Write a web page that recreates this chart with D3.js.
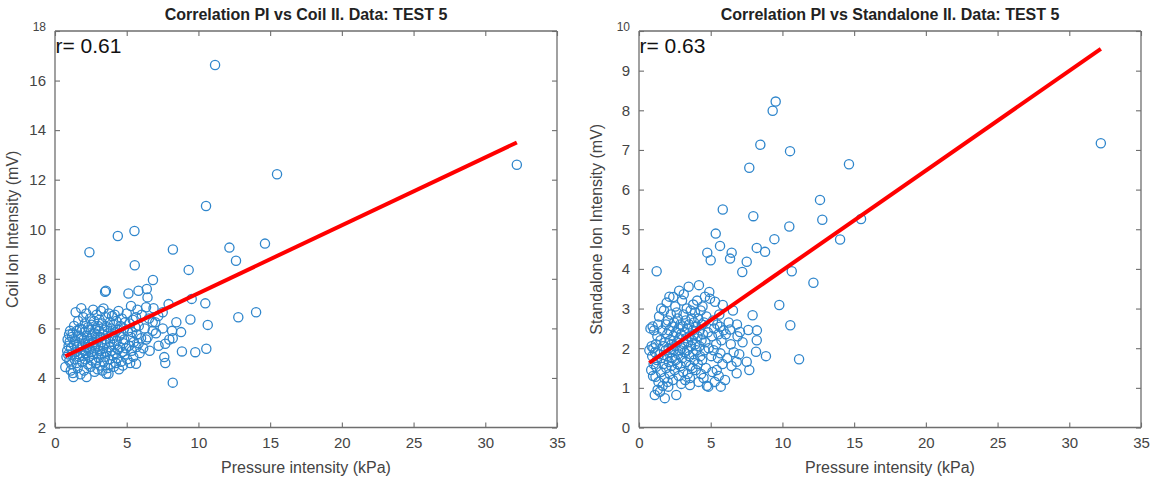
<!DOCTYPE html>
<html>
<head>
<meta charset="utf-8">
<script src="https://cdn.jsdelivr.net/npm/d3@7"></script>
<style>
  body { margin: 0; background: #fff; }
  svg { display: block; font-family: "Liberation Sans", Arial, Helvetica, sans-serif; }
</style>
</head>
<body>
<svg id="chart" width="1160" height="481"></svg>
<script>
// Pressure intensity (kPa) for each recorded event
const pressure = [
  0.72, 0.80, 0.85, 0.88, 0.92, 0.95, 0.98, 1.00, 1.02, 1.05,
  1.10, 1.12, 1.15, 1.18, 1.20, 1.23, 1.25, 1.28, 1.30, 1.33,
  1.36, 1.40, 1.44, 1.46, 1.50, 1.52, 1.55, 1.58, 1.62, 1.65,
  1.68, 1.70, 1.74, 1.78, 1.80, 1.83, 1.86, 1.88, 1.90, 1.93,
  1.95, 1.97, 2.00, 2.02, 2.04, 2.06, 2.08, 2.10, 2.12, 2.15,
  2.18, 2.20, 2.22, 2.25, 2.28, 2.30, 2.33, 2.36, 2.39, 2.40,
  2.42, 2.45, 2.48, 2.50, 2.53, 2.56, 2.58, 2.60, 2.63, 2.66,
  2.68, 2.70, 2.73, 2.76, 2.78, 2.80, 2.83, 2.86, 2.88, 2.90,
  2.93, 2.95, 2.97, 3.00, 3.02, 3.05, 3.08, 3.10, 3.12, 3.14,
  3.17, 3.20, 3.22, 3.25, 3.28, 3.30, 3.33, 3.36, 3.38, 3.40,
  3.43, 3.46, 3.49, 3.50, 3.52, 3.55, 3.58, 3.60, 3.62, 3.55,
  3.67, 3.70, 3.73, 3.75, 3.78, 3.80, 3.82, 3.84, 3.87, 3.90,
  3.93, 3.96, 3.98, 4.02, 4.05, 4.08, 4.10, 4.13, 4.16, 4.18,
  4.21, 4.24, 4.27, 4.30, 4.33, 4.36, 4.38, 4.40, 4.43, 4.46,
  4.50, 4.53, 4.56, 4.60, 4.63, 4.66, 4.70, 4.73, 4.76, 4.80,
  4.83, 4.86, 4.90, 4.95, 5.00, 5.04, 5.08, 5.12, 5.16, 5.20,
  5.24, 5.28, 5.30, 5.35, 5.38, 5.42, 5.46, 5.50, 5.54, 5.56,
  5.60, 5.65, 5.65, 5.68, 5.70, 5.75, 5.82, 5.84, 5.84, 5.90,
  6.00, 6.05, 6.15, 6.25, 6.35, 6.35, 6.40, 6.45, 6.46, 6.55,
  6.60, 6.81, 6.81, 6.83, 6.87, 6.99, 7.04, 7.20, 7.22, 7.51,
  7.51, 7.62, 7.69, 7.69, 7.92, 7.97, 8.16, 8.21, 8.21, 8.22,
  8.46, 8.79, 8.85, 9.32, 9.44, 9.53, 9.78, 10.48, 10.53, 10.55,
  10.65, 11.16, 12.16, 12.62, 12.78, 14.02, 14.64, 15.48, 32.20
];

// Coil ion intensity (mV), same order as pressure
const coilIon = [
  4.44, 4.85, 5.10, 5.55, 4.95, 5.30, 5.75, 4.70, 5.45, 5.90,
  4.30, 5.20, 4.55, 5.65, 4.95, 5.80, 4.20, 4.04, 5.35, 6.10,
  4.75, 5.50, 6.65, 5.05, 4.60, 5.90, 5.25, 4.40, 6.30, 5.70,
  4.85, 5.40, 6.00, 4.15, 5.15, 6.81, 5.60, 4.65, 5.95, 5.30,
  4.90, 6.45, 5.55, 4.30, 5.10, 5.85, 6.20, 4.75, 5.40, 5.00,
  6.60, 4.04, 5.70, 5.25, 4.55, 6.05, 5.50, 4.85, 5.95, 9.07,
  5.15, 6.40, 4.45, 5.60, 5.05, 6.15, 4.70, 5.75, 5.35, 6.75,
  4.95, 5.45, 6.30, 4.25, 5.80, 5.20, 6.00, 4.60, 5.55, 6.55,
  5.00, 5.65, 4.35, 6.10, 5.30, 4.80, 5.90, 6.35, 5.10, 4.50,
  5.65, 6.70, 4.95, 5.45, 6.20, 4.30, 5.75, 5.20, 6.80, 4.65,
  5.95, 5.35, 7.48, 4.85, 6.45, 5.55, 4.17, 5.05, 6.05, 7.52,
  4.40, 5.80, 4.17, 6.60, 5.25, 4.75, 6.25, 5.45, 4.55, 6.00,
  5.10, 5.70, 6.50, 4.90, 5.60, 6.15, 4.45, 5.35, 6.55, 5.00,
  5.85, 4.60, 6.30, 5.50, 4.80, 5.95, 9.73, 5.15, 6.70, 4.35,
  5.70, 5.25, 6.10, 4.65, 5.80, 6.40, 5.05, 4.50, 5.40, 6.00,
  5.55, 4.95, 6.25, 5.20, 6.60, 4.75, 5.90, 7.41, 5.30, 6.20,
  4.60, 5.65, 6.90, 5.10, 5.85, 6.35, 4.85, 5.45, 9.93, 8.55,
  6.05, 4.57, 6.45, 5.25, 5.75, 6.75, 7.52, 5.40, 6.10, 5.00,
  5.60, 6.55, 5.20, 6.00, 5.55, 6.85, 7.59, 7.25, 5.64, 6.40,
  5.10, 5.90, 6.25, 7.95, 6.81, 6.25, 5.80, 6.50, 5.30, 6.65,
  6.00, 4.84, 4.60, 5.38, 6.98, 5.55, 5.90, 3.81, 5.60, 9.18,
  6.25, 5.85, 5.07, 8.36, 6.36, 7.19, 5.04, 7.01, 10.94, 5.18,
  6.14, 16.63, 9.26, 8.73, 6.45, 6.65, 9.42, 12.22, 12.60
];

// Standalone ion intensity (mV), same order as pressure
const standaloneIon = [
  1.95, 2.50, 1.45, 2.05, 1.80, 2.55, 1.30, 2.00, 1.60, 2.45,
  0.82, 1.90, 1.28, 2.10, 1.53, 3.94, 1.70, 2.30, 0.95, 2.60,
  1.15, 2.80, 1.85, 0.90, 2.20, 1.40, 3.00, 1.75, 2.45, 1.05,
  2.05, 1.60, 2.95, 1.25, 0.74, 2.15, 1.95, 2.60, 1.50, 3.15,
  1.80, 2.35, 1.15, 2.70, 1.03, 2.00, 1.65, 2.45, 3.30, 1.35,
  2.20, 1.90, 2.85, 1.55, 2.10, 1.75, 2.55, 1.20, 3.29, 2.30,
  1.95, 2.65, 1.45, 2.05, 3.05, 1.70, 2.40, 0.82, 2.90, 2.15,
  1.60, 2.75, 1.85, 2.50, 1.30, 3.45, 2.25, 1.95, 2.60, 1.55,
  2.35, 1.10, 2.00, 3.20, 1.75, 2.55, 1.40, 2.85, 3.36, 2.10,
  1.90, 2.40, 1.20, 2.70, 1.65, 2.25, 3.00, 1.95, 2.50, 1.35,
  2.15, 3.55, 2.60, 1.80, 2.30, 1.07, 1.55, 2.95, 2.05, 1.25,
  2.75, 2.20, 1.50, 2.45, 3.10, 1.85, 2.35, 2.65, 1.70, 2.90,
  2.10, 1.45, 2.55, 1.95, 3.20, 2.30, 1.60, 2.75, 1.15, 3.59,
  2.05, 2.45, 1.80, 2.95, 1.35, 2.20, 2.60, 1.70, 3.05, 2.35,
  1.25, 2.65, 1.95, 3.30, 2.15, 1.50, 2.80, 1.05, 4.41, 2.40,
  1.03, 2.00, 3.42, 3.25, 4.22, 1.80, 2.30, 1.40, 2.70, 1.95,
  2.50, 1.15, 3.17, 4.89, 2.10, 1.45, 2.60, 1.75, 2.35, 1.30,
  2.85, 4.58, 2.54, 1.87, 1.03, 2.20, 1.60, 5.50, 3.09, 2.45,
  1.20, 2.35, 1.75, 2.65, 2.47, 4.26, 2.10, 1.55, 4.41, 2.95,
  1.90, 1.66, 1.37, 2.60, 2.30, 1.85, 2.41, 3.92, 2.15, 4.18,
  1.66, 2.46, 6.55, 1.45, 2.83, 5.33, 1.91, 4.53, 2.20, 2.45,
  7.13, 4.43, 1.80, 7.99, 4.75, 8.22, 3.09, 5.07, 6.97, 2.58,
  3.94, 1.72, 3.65, 5.74, 5.24, 4.74, 6.64, 5.26, 7.17
];

// Linear fits: [intercept, slope]
const coilFit = [4.68, 0.274];
const standaloneFit = [1.45, 0.2515];

const rLabels = ["r= 0.61", "r= 0.63"];
const titles = [
  "Correlation PI vs Coil II. Data: TEST 5",
  "Correlation PI vs Standalone II. Data: TEST 5"
];
const xLabel = "Pressure intensity (kPa)";
const yLabels = ["Coil Ion Intensity (mV)", "Standalone Ion Intensity (mV)"];
const xTicks = [0, 5, 10, 15, 20, 25, 30, 35];
const coilTicks = [2, 4, 6, 8, 10, 12, 14, 16, 18];
const standaloneTicks = [0, 1, 2, 3, 4, 5, 6, 7, 8, 9, 10];

const svg = d3.select("#chart");
const plotTop = 31, plotBottom = 427.5;
const axisColor = "#6e6e6e", textColor = "#444";

const panels = [
  { left: 55, right: 557, yDomain: [2, 18], yTicks: coilTicks, values: coilIon, fit: coilFit,
    r: rLabels[0], title: titles[0], yLabel: yLabels[0], yLabelX: 18 },
  { left: 639, right: 1141, yDomain: [0, 10], yTicks: standaloneTicks, values: standaloneIon, fit: standaloneFit,
    r: rLabels[1], title: titles[1], yLabel: yLabels[1], yLabelX: 602 }
];

panels.forEach(p => {
  const x = d3.scaleLinear().domain([0, 35]).range([p.left, p.right]);
  const y = d3.scaleLinear().domain(p.yDomain).range([plotBottom, plotTop]);
  const g = svg.append("g");

  // Axes with inward ticks on all four sides
  const tickLen = 5;
  const axB = d3.axisBottom(x).tickValues(xTicks).tickSizeInner(-tickLen).tickSizeOuter(0).tickPadding(10);
  const axT = d3.axisTop(x).tickValues(xTicks).tickSizeInner(-tickLen).tickSizeOuter(0).tickFormat("");
  const axL = d3.axisLeft(y).tickValues(p.yTicks).tickSizeInner(-tickLen).tickSizeOuter(0).tickPadding(9);
  const axR = d3.axisRight(y).tickValues(p.yTicks).tickSizeInner(-tickLen).tickSizeOuter(0).tickFormat("");

  const gb = g.append("g").attr("transform", `translate(0,${plotBottom})`).call(axB);
  const gt = g.append("g").attr("transform", `translate(0,${plotTop})`).call(axT);
  const gl = g.append("g").attr("transform", `translate(${p.left},0)`).call(axL);
  const gr = g.append("g").attr("transform", `translate(${p.right},0)`).call(axR);

  [gb, gt, gl, gr].forEach(a => {
    a.select(".domain").attr("stroke", axisColor).attr("stroke-width", 1.3);
    a.selectAll(".tick line").attr("stroke", axisColor).attr("stroke-width", 1.1);
    a.selectAll(".tick text").attr("fill", textColor).attr("font-size", 15)
      .attr("font-family", "'Liberation Sans', Arial, sans-serif");
  });
  // the topmost y label sits above the box corner in a smaller size
  gl.selectAll(".tick text").filter(d => d === p.yDomain[1])
    .attr("font-size", 12).attr("dy", "-0.05em");

  // keep the domain ends exactly at the box corners
  gb.select(".domain").attr("d", `M${p.left},0H${p.right}`);
  gt.select(".domain").attr("d", `M${p.left},0H${p.right}`);
  gl.select(".domain").attr("d", `M0,${plotTop}V${plotBottom}`);
  gr.select(".domain").attr("d", `M0,${plotTop}V${plotBottom}`);

  // Scatter points
  g.append("g").selectAll("circle")
    .data(pressure.map((v, i) => [v, p.values[i]]))
    .join("circle")
    .attr("cx", d => x(d[0]))
    .attr("cy", d => y(d[1]))
    .attr("r", 4.6)
    .attr("fill", "none")
    .attr("stroke", "#2f86cc")
    .attr("stroke-width", 1.3);

  // Regression line over the observed pressure range
  const [xMin, xMax] = d3.extent(pressure);
  g.append("line")
    .attr("x1", x(xMin)).attr("y1", y(p.fit[0] + p.fit[1] * xMin))
    .attr("x2", x(xMax)).attr("y2", y(p.fit[0] + p.fit[1] * xMax))
    .attr("stroke", "#ff0000")
    .attr("stroke-width", 4);

  // Correlation coefficient
  g.append("text")
    .attr("x", p.left + 0.5).attr("y", plotTop + 22)
    .attr("font-size", 21).attr("fill", "#111")
    .text(p.r);

  // Title
  g.append("text")
    .attr("x", (p.left + p.right) / 2).attr("y", 20)
    .attr("text-anchor", "middle")
    .attr("font-size", 16).attr("font-weight", "bold").attr("fill", "#222")
    .text(p.title);

  // Axis labels
  g.append("text")
    .attr("x", (p.left + p.right) / 2).attr("y", 473)
    .attr("text-anchor", "middle")
    .attr("font-size", 16).attr("fill", textColor)
    .text(xLabel);

  g.append("text")
    .attr("transform", `translate(${p.yLabelX},${(plotTop + plotBottom) / 2}) rotate(-90)`)
    .attr("text-anchor", "middle")
    .attr("font-size", 16).attr("fill", textColor)
    .text(p.yLabel);
});
</script>
</body>
</html>
